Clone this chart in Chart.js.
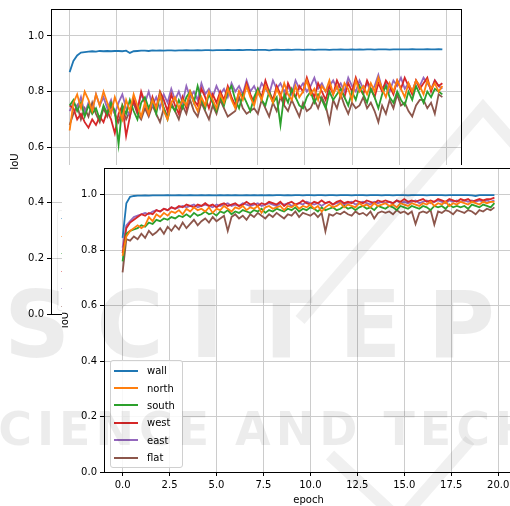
<!DOCTYPE html>
<html>
<head>
<meta charset="utf-8">
<script src="https://cdn.jsdelivr.net/npm/chart.js@4.4.0/dist/chart.umd.min.js"></script>
<style>
    html, body { margin: 0; padding: 0; background: #fff; }
    body { width: 510px; height: 506px; overflow: hidden; position: relative; font-family: 'DejaVu Sans', sans-serif; }
    #bgWrap { position: absolute; left: 0; top: 0; width: 510px; height: 340px; }
    #bgLegend { position: absolute; left: 57px; top: 210px; width: 40px; height: 99px; border: 1px solid rgba(0,0,0,0.12); border-radius: 3px; opacity: 0.5; }
    #bgLegend div { position: absolute; left: 3px; width: 10px; height: 1px; }
    #fgWrap { position: absolute; left: 62px; top: 165px; width: 470px; height: 341px; background: #fff; }
    #legend { position: absolute; left: 48px; top: 195px; width: 71px; padding: 1px 0; border: 1px solid #d0d0d0; border-radius: 3px; background: rgba(255,255,255,0.85); font-size: 10px; color: #000; }
    .lg-row { height: 17.4px; display: flex; align-items: center; }
    .lg-line { width: 24px; height: 2px; margin-left: 3px; margin-right: 9px; }
    #watermark { position: absolute; left: 0; top: 0; width: 510px; height: 506px; pointer-events: none; color: rgba(0,0,0,0.075); font-family: 'DejaVu Sans', sans-serif; font-weight: bold; }
    #watermark svg { position: absolute; left: 0; top: 0; }
    #wm1 { position: absolute; left: 4px; top: 272px; font-size: 92px; letter-spacing: 26px; white-space: nowrap; }
    #wm2 { position: absolute; left: -40px; top: 402px; font-size: 46px; letter-spacing: 5px; white-space: nowrap; }
</style>
</head>
<body>
<div id="bgWrap"><canvas id="bgChart" width="510" height="340"></canvas></div>
<div id="bgLegend"></div>
<div id="fgWrap">
    <canvas id="fgChart" width="470" height="341"></canvas>
    <div id="legend"></div>
</div>
<div id="watermark">
    <svg width="510" height="506"><g stroke="rgba(0,0,0,0.06)" stroke-width="12" fill="none">
        <polyline points="520,150 483,108 300,320"/>
        <polyline points="330,455 400,520 470,440"/>
    </g></svg>
    <div id="wm1">SCITEPRESS</div><div id="wm2">SCIENCE AND TECHNOLOGY</div>
</div>
<script>
const seriesNames = ['wall', 'north', 'south', 'west', 'east', 'flat'];
const seriesColors = ['#1f77b4', '#ff7f0e', '#2ca02c', '#d62728', '#9467bd', '#8c564b'];
const yTicks = [0, 0.2, 0.4, 0.6, 0.8, 1.0];
const xTicks = [0, 2.5, 5, 7.5, 10, 12.5, 15, 17.5, 20];

// upper (hidden) plot
const bgWall = [
    0.87,0.91,0.93,0.94,0.942,0.944,0.945,0.944,0.946,0.945,
    0.946,0.945,0.946,0.946,0.945,0.947,0.939,0.945,0.946,0.947,
    0.947,0.946,0.948,0.947,0.948,0.947,0.948,0.948,0.947,0.948,
    0.948,0.949,0.948,0.948,0.949,0.948,0.949,0.949,0.948,0.949,
    0.949,0.949,0.95,0.949,0.949,0.95,0.949,0.95,0.95,0.949,
    0.95,0.95,0.95,0.948,0.95,0.951,0.95,0.95,0.951,0.95,
    0.951,0.951,0.95,0.951,0.951,0.95,0.951,0.951,0.951,0.95,
    0.951,0.951,0.952,0.951,0.951,0.952,0.951,0.952,0.951,0.952,
    0.952,0.951,0.952,0.952,0.952,0.951,0.952,0.952,0.952,0.952,
    0.952,0.953,0.952,0.952,0.952,0.953,0.952,0.952,0.953,0.952
];
const bgNorth = [
    0.66,0.76,0.79,0.74,0.80,0.77,0.73,0.79,0.75,0.80,
    0.76,0.72,0.78,0.74,0.70,0.77,0.73,0.79,0.75,0.71,
    0.76,0.72,0.77,0.74,0.79,0.73,0.70,0.76,0.78,0.74,
    0.77,0.75,0.80,0.76,0.73,0.78,0.75,0.80,0.77,0.74,
    0.79,0.76,0.81,0.77,0.74,0.80,0.77,0.82,0.78,0.75,
    0.80,0.77,0.82,0.79,0.76,0.81,0.78,0.83,0.79,0.77,
    0.82,0.78,0.80,0.84,0.79,0.81,0.77,0.82,0.80,0.84,
    0.79,0.82,0.78,0.83,0.81,0.77,0.84,0.80,0.82,0.79,
    0.83,0.80,0.85,0.81,0.78,0.83,0.80,0.84,0.81,0.78,
    0.83,0.80,0.84,0.82,0.79,0.84,0.81,0.83,0.80,0.82
];
const bgSouth = [
    0.75,0.77,0.73,0.76,0.71,0.75,0.72,0.74,0.70,0.75,
    0.72,0.76,0.73,0.61,0.75,0.72,0.77,0.73,0.70,0.76,
    0.78,0.74,0.77,0.72,0.79,0.74,0.70,0.75,0.73,0.77,
    0.74,0.78,0.80,0.76,0.82,0.77,0.74,0.79,0.76,0.73,
    0.78,0.75,0.80,0.82,0.77,0.74,0.79,0.76,0.73,0.78,
    0.81,0.77,0.75,0.80,0.76,0.78,0.68,0.79,0.76,0.81,
    0.78,0.75,0.74,0.78,0.80,0.76,0.79,0.77,0.74,0.80,
    0.77,0.79,0.81,0.78,0.75,0.80,0.77,0.82,0.79,0.76,
    0.81,0.78,0.74,0.79,0.82,0.78,0.76,0.80,0.77,0.75,
    0.80,0.77,0.82,0.79,0.76,0.80,0.78,0.81,0.80,0.79
];
const bgWest = [
    0.75,0.74,0.70,0.72,0.69,0.67,0.70,0.68,0.71,0.69,
    0.73,0.70,0.65,0.72,0.75,0.64,0.71,0.77,0.73,0.80,
    0.76,0.72,0.78,0.74,0.80,0.77,0.73,0.79,0.75,0.72,
    0.78,0.74,0.80,0.77,0.75,0.81,0.78,0.74,0.79,0.76,
    0.80,0.77,0.82,0.78,0.75,0.80,0.78,0.83,0.79,0.76,
    0.81,0.78,0.84,0.80,0.77,0.82,0.79,0.76,0.83,0.80,
    0.78,0.82,0.80,0.85,0.81,0.78,0.83,0.80,0.77,0.82,
    0.79,0.84,0.81,0.78,0.83,0.80,0.85,0.81,0.79,0.84,
    0.81,0.78,0.83,0.80,0.84,0.82,0.79,0.84,0.81,0.85,
    0.82,0.79,0.84,0.81,0.83,0.85,0.80,0.84,0.82,0.83
];
const bgEast = [
    0.73,0.76,0.74,0.78,0.72,0.76,0.73,0.79,0.75,0.78,
    0.74,0.77,0.72,0.76,0.79,0.74,0.71,0.77,0.74,0.79,
    0.76,0.80,0.75,0.78,0.74,0.79,0.76,0.81,0.77,0.80,
    0.76,0.82,0.78,0.80,0.77,0.83,0.79,0.81,0.78,0.82,
    0.79,0.81,0.78,0.83,0.80,0.82,0.79,0.84,0.80,0.82,
    0.79,0.83,0.81,0.79,0.84,0.81,0.83,0.80,0.82,0.79,
    0.84,0.81,0.83,0.80,0.82,0.85,0.81,0.83,0.80,0.82,
    0.84,0.81,0.83,0.80,0.85,0.82,0.80,0.84,0.81,0.83,
    0.80,0.82,0.86,0.81,0.83,0.80,0.84,0.82,0.85,0.81,
    0.83,0.80,0.84,0.82,0.85,0.83,0.81,0.84,0.82,0.81
];
const bgFlat = [
    0.68,0.72,0.75,0.70,0.74,0.71,0.76,0.72,0.69,0.74,
    0.71,0.75,0.72,0.69,0.74,0.70,0.73,0.76,0.72,0.70,
    0.74,0.71,0.75,0.72,0.69,0.74,0.71,0.76,0.73,0.70,
    0.75,0.72,0.77,0.73,0.71,0.76,0.73,0.70,0.75,0.72,
    0.77,0.74,0.71,0.72,0.73,0.78,0.74,0.72,0.73,0.74,
    0.72,0.77,0.74,0.71,0.76,0.73,0.78,0.75,0.73,0.77,
    0.74,0.71,0.76,0.73,0.74,0.77,0.74,0.78,0.75,0.69,
    0.77,0.74,0.79,0.75,0.72,0.76,0.74,0.75,0.78,0.74,
    0.76,0.73,0.69,0.75,0.72,0.77,0.74,0.79,0.75,0.76,
    0.73,0.71,0.75,0.77,0.77,0.74,0.76,0.72,0.79,0.78
];

// lower (front) plot
const fgWall = [
    0.845,0.97,0.993,0.996,0.997,0.997,0.998,0.997,0.998,0.998,
    0.998,0.998,0.999,0.998,0.998,0.999,0.998,0.998,0.999,0.998,
    0.998,0.999,0.998,0.999,0.998,0.998,0.999,0.998,0.999,0.998,
    0.999,0.998,0.998,0.999,0.998,0.999,0.998,0.999,0.998,0.999,
    0.998,0.999,0.999,0.998,0.999,0.998,0.999,0.999,0.998,0.999,
    0.999,0.998,0.999,0.999,0.998,0.999,0.999,0.998,0.999,0.999,
    0.999,0.998,0.999,0.999,0.999,0.998,0.999,0.999,0.999,0.998,
    0.999,0.999,0.998,0.999,0.999,0.999,0.998,0.999,0.999,0.999,
    0.999,0.998,0.999,0.999,0.999,0.999,0.998,0.999,0.999,0.999,
    0.999,0.999,0.999,0.998,0.996,0.999,0.999,0.999,0.999,0.999
];
const fgNorth = [
    0.78,0.85,0.87,0.88,0.89,0.88,0.89,0.92,0.905,0.93,
    0.92,0.935,0.925,0.94,0.935,0.945,0.93,0.95,0.94,0.955,
    0.945,0.95,0.94,0.955,0.935,0.95,0.945,0.96,0.95,0.94,
    0.955,0.95,0.96,0.945,0.955,0.95,0.96,0.935,0.955,0.96,
    0.95,0.955,0.96,0.945,0.96,0.955,0.965,0.95,0.96,0.955,
    0.965,0.95,0.96,0.94,0.955,0.965,0.955,0.96,0.97,0.955,
    0.965,0.96,0.955,0.97,0.96,0.965,0.955,0.97,0.96,0.965,
    0.97,0.96,0.965,0.955,0.97,0.965,0.96,0.97,0.965,0.96,
    0.97,0.965,0.975,0.96,0.97,0.965,0.975,0.96,0.97,0.965,
    0.975,0.97,0.965,0.975,0.97,0.965,0.975,0.97,0.975,0.975
];
const fgSouth = [
    0.76,0.86,0.87,0.875,0.88,0.89,0.885,0.90,0.895,0.91,
    0.905,0.915,0.91,0.92,0.915,0.925,0.92,0.93,0.92,0.935,
    0.925,0.93,0.94,0.93,0.935,0.925,0.94,0.935,0.945,0.93,
    0.94,0.935,0.945,0.94,0.935,0.945,0.94,0.95,0.935,0.945,
    0.94,0.95,0.945,0.94,0.95,0.945,0.955,0.94,0.95,0.945,
    0.955,0.95,0.94,0.955,0.945,0.95,0.955,0.945,0.95,0.96,
    0.95,0.955,0.945,0.955,0.96,0.95,0.955,0.945,0.96,0.955,
    0.95,0.96,0.955,0.945,0.96,0.955,0.95,0.96,0.955,0.95,
    0.96,0.955,0.945,0.96,0.955,0.96,0.95,0.965,0.955,0.96,
    0.955,0.96,0.95,0.965,0.96,0.955,0.965,0.96,0.955,0.97
];
const fgWest = [
    0.79,0.88,0.90,0.91,0.92,0.93,0.925,0.935,0.93,0.945,
    0.94,0.95,0.945,0.955,0.95,0.96,0.955,0.965,0.96,0.955,
    0.965,0.96,0.97,0.96,0.965,0.955,0.965,0.97,0.96,0.965,
    0.97,0.96,0.965,0.975,0.965,0.97,0.96,0.97,0.965,0.975,
    0.97,0.965,0.975,0.96,0.97,0.975,0.965,0.97,0.98,0.97,
    0.965,0.975,0.97,0.98,0.97,0.975,0.965,0.975,0.98,0.97,
    0.975,0.97,0.98,0.975,0.97,0.98,0.975,0.97,0.98,0.975,
    0.98,0.975,0.97,0.98,0.975,0.985,0.975,0.98,0.975,0.98,
    0.985,0.975,0.98,0.975,0.985,0.98,0.975,0.985,0.98,0.975,
    0.985,0.98,0.985,0.975,0.98,0.985,0.98,0.985,0.985,0.99
];
const fgEast = [
    0.81,0.89,0.905,0.92,0.925,0.93,0.935,0.93,0.94,0.945,
    0.94,0.95,0.945,0.955,0.95,0.955,0.96,0.955,0.96,0.965,
    0.955,0.96,0.965,0.96,0.955,0.965,0.96,0.965,0.97,0.96,
    0.965,0.96,0.97,0.965,0.96,0.965,0.97,0.96,0.965,0.97,
    0.965,0.96,0.97,0.965,0.97,0.96,0.965,0.97,0.965,0.975,
    0.97,0.965,0.97,0.96,0.97,0.975,0.965,0.97,0.975,0.965,
    0.97,0.975,0.965,0.97,0.975,0.97,0.965,0.975,0.97,0.975,
    0.97,0.975,0.97,0.98,0.97,0.975,0.97,0.975,0.98,0.97,
    0.975,0.98,0.97,0.975,0.98,0.975,0.97,0.98,0.975,0.98,
    0.975,0.98,0.975,0.98,0.975,0.98,0.975,0.98,0.975,0.98
];
const fgFlat = [
    0.72,0.84,0.835,0.85,0.84,0.86,0.845,0.87,0.855,0.865,
    0.88,0.86,0.885,0.87,0.89,0.875,0.90,0.88,0.895,0.91,
    0.89,0.905,0.915,0.90,0.92,0.905,0.915,0.925,0.87,0.92,
    0.93,0.915,0.925,0.91,0.93,0.92,0.935,0.925,0.915,0.93,
    0.92,0.935,0.925,0.915,0.93,0.925,0.94,0.92,0.935,0.93,
    0.925,0.935,0.92,0.935,0.868,0.93,0.925,0.935,0.93,0.94,
    0.93,0.925,0.94,0.93,0.935,0.925,0.94,0.915,0.935,0.94,
    0.935,0.94,0.93,0.945,0.935,0.94,0.93,0.94,0.895,0.935,
    0.94,0.935,0.945,0.893,0.94,0.935,0.945,0.94,0.93,0.945,
    0.94,0.935,0.945,0.94,0.93,0.945,0.94,0.95,0.945,0.955
];

const epochs = bgWall.map((_, i) => +(i * 0.2).toFixed(1));

Chart.defaults.font.family = "'DejaVu Sans', sans-serif";
Chart.defaults.font.size = 10;
Chart.defaults.color = '#000';

const frameBox = {
    id: 'frameBox',
    afterDraw(chart) {
        const { ctx, chartArea: a } = chart;
        ctx.save();
        ctx.strokeStyle = '#000';
        ctx.lineWidth = 1;
        ctx.strokeRect(Math.round(a.left) + 0.5, Math.round(a.top) + 0.5, Math.round(a.right - a.left), Math.round(a.bottom - a.top));
        ctx.restore();
    }
};

function buildDatasets(list) {
    return list.map((vals, i) => ({
        label: seriesNames[i],
        data: vals.map((v, j) => ({ x: epochs[j], y: v })),
        borderColor: seriesColors[i],
        backgroundColor: seriesColors[i],
        borderWidth: 1.8,
        pointRadius: 0,
        tension: 0,
        fill: false
    }));
}

function makeOptions(cfg) {
    return {
        responsive: false,
        animation: false,
        devicePixelRatio: 1,
        layout: { padding: cfg.padding },
        plugins: { legend: { display: false }, tooltip: { enabled: false } },
        scales: {
            x: {
                type: 'linear',
                min: -0.99,
                max: 20.79,
                afterBuildTicks: (s) => { s.ticks = xTicks.map(v => ({ value: v })); },
                afterFit: (s) => { s.height = cfg.xHeight; s.paddingLeft = 0; s.paddingRight = 0; },
                ticks: { callback: (v) => Number(v).toFixed(1), padding: 3, maxRotation: 0, autoSkip: false },
                grid: { color: '#cccccc', tickColor: '#000', tickLength: 4, lineWidth: 1 },
                border: { color: '#000', width: 1 },
                title: { display: cfg.xTitle, text: 'epoch', padding: { top: 0, bottom: 0 } }
            },
            y: {
                min: 0,
                max: 1.097,
                afterBuildTicks: (s) => { s.ticks = yTicks.map(v => ({ value: v })); },
                afterFit: (s) => { s.width = cfg.yWidth; s.paddingTop = 0; s.paddingBottom = 0; },
                ticks: { callback: (v) => Number(v).toFixed(1), padding: 3, autoSkip: false },
                grid: { color: '#cccccc', tickColor: '#000', tickLength: 4, lineWidth: 1 },
                border: { color: '#000', width: 1 },
                title: { display: true, text: 'IoU', padding: cfg.yTitlePad }
            }
        }
    };
}

new Chart(document.getElementById('bgChart'), {
    type: 'line',
    data: { datasets: buildDatasets([bgWall, bgNorth, bgSouth, bgWest, bgEast, bgFlat]) },
    options: makeOptions({ padding: { left: 0, top: 9, right: 49, bottom: 0 }, xHeight: 26, yWidth: 51, xTitle: false, yTitlePad: { top: 9, bottom: 0 } }),
    plugins: [frameBox]
});

new Chart(document.getElementById('fgChart'), {
    type: 'line',
    data: { datasets: buildDatasets([fgWall, fgNorth, fgSouth, fgWest, fgEast, fgFlat]) },
    options: makeOptions({ padding: { left: 0, top: 3, right: 19, bottom: 0 }, xHeight: 34, yWidth: 42, xTitle: true, yTitlePad: { top: -3, bottom: 0 } }),
    plugins: [frameBox]
});

// legend of the upper plot, almost fully hidden behind the lower one
document.getElementById('bgLegend').innerHTML = seriesColors.map((c, i) =>
    `<div style="top:${7 + i * 17.6}px;background:${c}"></div>`
).join('');

document.getElementById('legend').innerHTML = seriesNames.map((n, i) =>
    `<div class="lg-row"><div class="lg-line" style="background:${seriesColors[i]}"></div><span>${n}</span></div>`
).join('');
</script>
</body>
</html>
